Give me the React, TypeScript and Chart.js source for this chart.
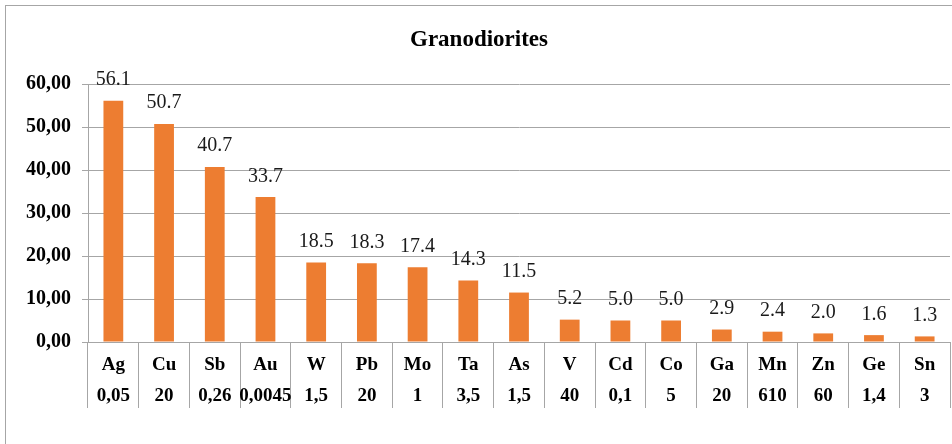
import React, { useEffect, useRef } from "react";
import { Chart, registerables } from "chart.js";

Chart.register(...registerables);

const elements = ["Ag", "Cu", "Sb", "Au", "W", "Pb", "Mo", "Ta", "As", "V", "Cd", "Co", "Ga", "Mn", "Zn", "Ge", "Sn"];
const clarkes = ["0,05", "20", "0,26", "0,0045", "1,5", "20", "1", "3,5", "1,5", "40", "0,1", "5", "20", "610", "60", "1,4", "3"];
const values = [56.1, 50.7, 40.7, 33.7, 18.5, 18.3, 17.4, 14.3, 11.5, 5.2, 5.0, 5.0, 2.9, 2.4, 2.0, 1.6, 1.3];
const yTicksMin = 0;
const yTicksMax = 60;
const yStep = 10;

const SERIF = '"Liberation Serif", "Times New Roman", serif';
const GRID = "#a6a6a6";

const framePlugin = {
  id: "frame",
  beforeDraw(chart: any) {
    const ctx = chart.ctx;
    ctx.save();
    ctx.fillStyle = "#ffffff";
    ctx.fillRect(0, 0, chart.width, chart.height);
    ctx.strokeStyle = GRID;
    ctx.lineWidth = 1;
    ctx.strokeRect(5.5, 5.5, chart.width + 50, chart.height + 50);
    ctx.restore();
  },
};

const valueLabelPlugin = {
  id: "valueLabels",
  afterDatasetsDraw(chart: any) {
    const ctx = chart.ctx;
    const meta = chart.getDatasetMeta(0);
    ctx.save();
    ctx.font = `20px ${SERIF}`;
    ctx.fillStyle = "#1a1a1a";
    ctx.textAlign = "center";
    ctx.textBaseline = "alphabetic";
    meta.data.forEach((bar: any, i: number) => {
      ctx.fillText(values[i].toFixed(1), bar.x, bar.y - 15.5);
    });
    ctx.restore();
  },
};

export default function App() {
  const ref = useRef<HTMLCanvasElement | null>(null);

  useEffect(() => {
    if (!ref.current) return;
    const chart = new Chart(ref.current, {
      type: "bar",
      data: {
        labels: elements.map((e, i) => [e, clarkes[i]]),
        datasets: [
          {
            data: values,
            backgroundColor: "#ED7D31",
            borderWidth: 0,
            barPercentage: 0.39,
            categoryPercentage: 1,
          },
        ],
      },
      options: {
        responsive: false,
        animation: false,
        layout: { padding: { left: 8, right: 2, top: 0, bottom: 0 } },
        plugins: {
          legend: { display: false },
          tooltip: { enabled: false },
          title: {
            display: true,
            text: "Granodiorites",
            color: "#000",
            font: { family: SERIF, size: 23, weight: "bold", lineHeight: 1.2 },
            padding: { top: 26.2, bottom: 30.2 },
          },
        },
        scales: {
          x: {
            offset: true,
            grid: {
              display: true,
              drawOnChartArea: false,
              drawTicks: true,
              tickLength: 66,
              color: GRID,
              lineWidth: 1,
              offset: true,
            },
            border: { display: true, color: GRID },
            ticks: {
              color: "#000",
              font: { family: SERIF, size: 19, weight: "bold", lineHeight: "31px" },
              padding: -58,
              maxRotation: 0,
              autoSkip: false,
            },
            afterFit(scale: any) {
              scale.height = 102;
            },
          },
          y: {
            min: yTicksMin,
            max: yTicksMax,
            grid: { color: GRID, lineWidth: 1, tickLength: 6, drawTicks: true },
            border: { display: true, color: GRID },
            ticks: {
              stepSize: yStep,
              color: "#000",
              padding: 11,
              font: { family: SERIF, size: 20, weight: "bold" },
              callback: (v: any) => Number(v).toFixed(2).replace(".", ","),
            },
            afterFit(scale: any) {
              scale.width = 80;
            },
          },
        },
      },
      plugins: [framePlugin, valueLabelPlugin],
    });
    return () => chart.destroy();
  }, []);

  return (
    <div style={{ position: "absolute", left: 0, top: 0, width: 952, height: 444 }}>
      <canvas ref={ref} width={952} height={444} style={{ display: "block" }} />
    </div>
  );
}
